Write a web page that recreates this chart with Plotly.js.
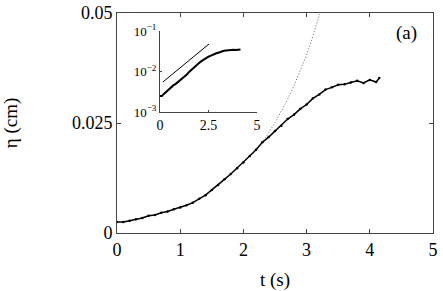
<!DOCTYPE html>
<html>
<head>
<meta charset="utf-8">
<script src="https://cdn.plot.ly/plotly-3.0.1.min.js"></script>
<style>
  html, body { margin: 0; padding: 0; background: #fff; }
  #chart { width: 443px; height: 291px; }
</style>
</head>
<body>
<div id="chart"></div>
<script>
var tData = [0, 0.1, 0.2, 0.3, 0.4, 0.5, 0.6, 0.7, 0.8, 0.9,
             1.0, 1.1, 1.2, 1.3, 1.4, 1.5, 1.6, 1.7, 1.8, 1.9,
             2.0, 2.1, 2.2, 2.3, 2.4, 2.5, 2.6, 2.7, 2.8, 2.9,
             3.0, 3.1, 3.2, 3.3, 3.4, 3.5, 3.6, 3.7, 3.8, 3.9,
             4.0, 4.1, 4.15];
var etaData = [0.0025, 0.0025, 0.0028, 0.0031, 0.0034, 0.0039, 0.0041, 0.0046, 0.0049, 0.0054,
               0.0058, 0.0063, 0.0069, 0.0078, 0.0086, 0.0098, 0.0109, 0.0122, 0.0134, 0.0147,
               0.0160, 0.0175, 0.0189, 0.0206, 0.0218, 0.0232, 0.0244, 0.0259, 0.0269, 0.0282,
               0.0292, 0.0306, 0.0315, 0.0326, 0.0331, 0.0337, 0.0338, 0.0342, 0.0346, 0.0341,
               0.0348, 0.0343, 0.0352];

var tFit = [2.2, 2.3, 2.4, 2.5, 2.6, 2.7, 2.8, 2.9, 3.0, 3.1, 3.2, 3.25];
var etaFit = [0.0189, 0.0207, 0.0228, 0.0251, 0.0277, 0.0304, 0.0335, 0.0370, 0.0405, 0.0448, 0.0495, 0.0520];

// slope guide in the inset
var tGuide = [0.15, 2.53];
var etaGuide = [0.0055, 0.048];

var serif = '"Liberation Serif", "Times New Roman", serif';

var data = [
    {
        x: tFit, y: etaFit, type: 'scatter', mode: 'lines',
        line: {color: '#666', width: 1, dash: '1px,2px', shape: 'spline'},
        xaxis: 'x', yaxis: 'y', hoverinfo: 'skip'
    },
    {
        x: tData, y: etaData, type: 'scatter', mode: 'lines+markers',
        line: {color: '#000', width: 1.5},
        marker: {color: '#000', size: 2.5},
        xaxis: 'x', yaxis: 'y'
    },
    {
        x: tData, y: etaData, type: 'scatter', mode: 'lines',
        line: {color: '#000', width: 2},
        xaxis: 'x2', yaxis: 'y2'
    },
    {
        x: tGuide, y: etaGuide, type: 'scatter', mode: 'lines',
        line: {color: '#000', width: 1},
        xaxis: 'x2', yaxis: 'y2'
    }
];

var layout = {
    width: 443,
    height: 291,
    showlegend: false,
    paper_bgcolor: '#fff',
    plot_bgcolor: 'rgba(0,0,0,0)',
    font: {family: serif, color: '#000', size: 16},
    margin: {l: 117, r: 10, t: 13, b: 58},
    xaxis: {
        domain: [0, 1],
        range: [0, 5],
        tickvals: [0, 1, 2, 3, 4, 5],
        ticks: 'inside', ticklen: 4, tickcolor: '#444',
        showline: true, linecolor: '#444', linewidth: 1, mirror: 'ticks',
        showgrid: false, zeroline: false,
        tickfont: {family: serif, size: 18},
        title: {text: 't (s)', font: {family: serif, size: 19}, standoff: 16},
        automargin: false
    },
    yaxis: {
        domain: [0, 1],
        range: [0, 0.05],
        tickvals: [0, 0.025, 0.05],
        ticktext: ['0', '0.025', '0.05'],
        ticks: 'inside', ticklen: 4, tickcolor: '#444',
        showline: true, linecolor: '#444', linewidth: 1, mirror: 'ticks',
        showgrid: false, zeroline: false,
        tickfont: {family: serif, size: 18},
        title: {text: 'η (cm)', font: {family: serif, size: 19}, standoff: 50},
        automargin: false
    },
    xaxis2: {
        domain: [0.136, 0.443],
        anchor: 'y2',
        range: [0, 5],
        tickvals: [0, 2.5, 5],
        ticktext: ['0', '2.5', '5'],
        ticks: 'inside', ticklen: 2, tickcolor: '#444',
        showline: true, linecolor: '#444', linewidth: 1,
        showgrid: false, zeroline: false,
        tickfont: {family: serif, size: 14}
    },
    yaxis2: {
        domain: [0.55, 0.918],
        anchor: 'x2',
        type: 'log',
        range: [-3, -1],
        tickvals: [0.001, 0.01, 0.1],
        ticktext: ['10<sup>−3</sup>', '10<sup>−2</sup>', '10<sup>−1</sup>'],
        ticks: 'inside', ticklen: 2, tickcolor: '#444',
        showline: true, linecolor: '#444', linewidth: 1,
        showgrid: false, zeroline: false,
        tickfont: {family: serif, size: 13}
    },
    annotations: [
        {
            text: '(a)', xref: 'paper', yref: 'paper',
            x: 0.915, y: 0.91, xanchor: 'center', yanchor: 'middle',
            showarrow: false, font: {family: serif, size: 19}
        }
    ]
};

Plotly.newPlot('chart', data, layout, {displayModeBar: false, staticPlot: true});
</script>
</body>
</html>
